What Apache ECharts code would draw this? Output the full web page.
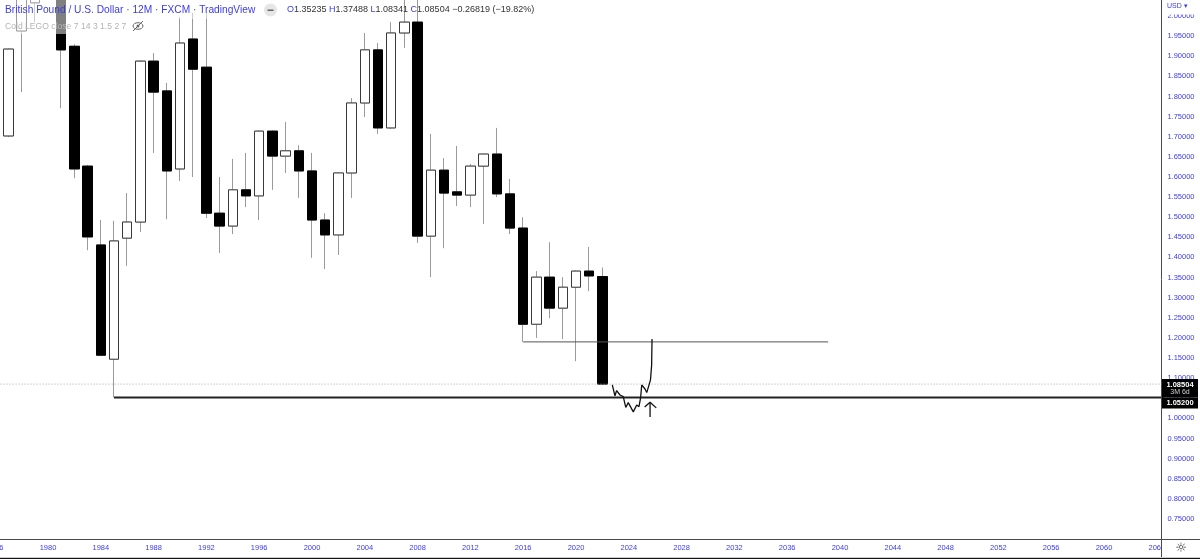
<!DOCTYPE html>
<html>
<head>
<meta charset="utf-8">
<script src="https://cdn.jsdelivr.net/npm/echarts@6/dist/echarts.min.js"></script>
<style>
  html, body { margin: 0; padding: 0; background: #fff; }
  #main { width: 1200px; height: 559px; }
</style>
</head>
<body>
<div id="main"></div>
<script>
// yearly GBP/USD candles
const years = [1976, 1977, 1978, 1979, 1980, 1981, 1982, 1983, 1984, 1985, 1986, 1987, 1988, 1989,
  1990, 1991, 1992, 1993, 1994, 1995, 1996, 1997, 1998, 1999, 2000, 2001, 2002, 2003, 2004, 2005,
  2006, 2007, 2008, 2009, 2010, 2011, 2012, 2013, 2014, 2015, 2016, 2017, 2018, 2019, 2020, 2021, 2022];
const opens = [2.02, 1.702, 1.963, 2.033, 2.22, 2.39, 1.925, 1.627, 1.431, 1.147, 1.448, 1.488, 1.888, 1.814,
  1.620, 1.943, 1.873, 1.510, 1.478, 1.568, 1.553, 1.714, 1.652, 1.665, 1.615, 1.493, 1.456, 1.610, 1.784, 1.916,
  1.722, 1.958, 1.985, 1.453, 1.617, 1.563, 1.555, 1.627, 1.657, 1.558, 1.473, 1.234, 1.351, 1.274, 1.326, 1.366, 1.35235];
const closes = [1.702, 1.918, 2.05, 2.22, 2.39, 1.916, 1.620, 1.451, 1.157, 1.441, 1.488, 1.888, 1.811, 1.615,
  1.933, 1.868, 1.510, 1.478, 1.568, 1.553, 1.714, 1.652, 1.665, 1.615, 1.493, 1.456, 1.610, 1.784, 1.916, 1.722,
  1.958, 1.985, 1.453, 1.617, 1.560, 1.555, 1.627, 1.657, 1.558, 1.473, 1.234, 1.351, 1.274, 1.326, 1.366, 1.354, 1.08504];
const lows = [1.56, 1.699, 1.811, 1.985, 2.16, 1.771, 1.597, 1.418, 1.155, 1.052, 1.379, 1.463, 1.660, 1.495,
  1.590, 1.600, 1.498, 1.411, 1.458, 1.525, 1.493, 1.568, 1.610, 1.548, 1.399, 1.371, 1.406, 1.548, 1.749, 1.707,
  1.720, 1.921, 1.436, 1.351, 1.423, 1.528, 1.525, 1.483, 1.550, 1.458, 1.190, 1.200, 1.249, 1.197, 1.142, 1.316, 1.08341];
const highs = [2.06, 1.92, 2.10, 2.45, 2.45, 2.46, 1.93, 1.63, 1.493, 1.491, 1.560, 1.890, 1.908, 1.834,
  1.998, 2.008, 2.008, 1.600, 1.645, 1.660, 1.716, 1.716, 1.737, 1.679, 1.660, 1.510, 1.612, 1.796, 1.958, 1.933,
  1.985, 2.116, 2.04, 1.707, 1.647, 1.677, 1.632, 1.658, 1.722, 1.595, 1.500, 1.366, 1.438, 1.351, 1.368, 1.426, 1.37488];

// axis runs out to 2064 (future years empty)
const firstYear = 1976, lastYear = 2064;
const axisYears = [];
for (let y = firstYear; y <= lastYear; y++) axisYears.push(String(y));

// drawn levels
const supportLevel = 1.052;
const supportFrom = 1985;
const rangeLow = 1.19;
const rangeFrom = 2016, rangeTo = 2039.1;
const lastPrice = 1.08504;

// hand drawn scribble + arrow, in [year, price]
const scribble = [[2022.75, 1.083], [2022.95, 1.056], [2023.08, 1.069], [2023.33, 1.058], [2023.58, 1.054],
  [2023.77, 1.027], [2023.96, 1.039], [2024.34, 1.016], [2024.6, 1.033], [2024.77, 1.029], [2024.89, 1.05],
  [2024.98, 1.083], [2025.23, 1.073], [2025.36, 1.064], [2025.64, 1.095], [2025.73, 1.132], [2025.76, 1.197]];
const arrowShaft = [[2025.61, 1.003], [2025.61, 1.040]];
const arrowHead = [[2025.2, 1.028], [2025.61, 1.040], [2026.08, 1.026]];

const blue = '#3b3bea';
const font = '"Liberation Sans", Arial, sans-serif';

const candles = years.map((y, i) => [opens[i], closes[i], lows[i], highs[i]]);
const bodies = years.map((y, i) => [opens[i], closes[i], Math.min(opens[i], closes[i]), Math.max(opens[i], closes[i])]);

let chart = echarts.init(document.getElementById('main'));

function lineSeries(name, data, style) {
  return {
    name: name, type: 'line', xAxisIndex: 1, yAxisIndex: 0, data: data,
    symbol: 'none', silent: true, lineStyle: style, z: 5
  };
}

chart.setOption({
  animation: false,
  grid: { left: -11.4, top: 0, width: 1174.8, height: 539, containLabel: false, outerBoundsMode: 'none' },
  xAxis: [
    {
      type: 'category', data: axisYears, boundaryGap: true,
      axisLine: { show: false }, axisTick: { show: false }, splitLine: { show: false },
      axisLabel: { interval: 3, color: blue, fontSize: 7.5, fontFamily: font, margin: 5 }
    },
    { type: 'value', min: firstYear - 0.5, max: lastYear + 0.5, show: false }
  ],
  yAxis: {
    type: 'value', position: 'right', min: 0.7, max: 2.04, interval: 0.05, scale: true,
    axisLine: { show: false }, axisTick: { show: false }, splitLine: { show: false },
    axisLabel: {
      color: blue, fontSize: 7.5, fontFamily: font, margin: 4,
      showMinLabel: false, showMaxLabel: false,
      formatter: v => v.toFixed(5)
    }
  },
  series: [
    {
      // wicks
      name: 'range', type: 'candlestick', data: candles, barWidth: 10, silent: true,
      itemStyle: { color: '#fff', color0: '#000', borderColor: '#9a9a9a', borderColor0: '#9a9a9a', borderWidth: 1 }
    },
    {
      name: 'body', type: 'candlestick', data: bodies, barWidth: 10, silent: true,
      itemStyle: { color: '#fff', color0: '#000', borderColor: '#3a3a3a', borderColor0: '#000', borderWidth: 1 }
    },
    lineSeries('last', [[firstYear - 0.5, lastPrice], [lastYear + 0.5, lastPrice]], { color: '#a8a8a8', width: 1, type: [1, 2] }),
    lineSeries('support', [[supportFrom, supportLevel], [lastYear + 0.5, supportLevel]], { color: '#222', width: 2 }),
    lineSeries('box', [[rangeFrom, rangeLow], [rangeTo, rangeLow]], { color: '#555', width: 1 }),
    lineSeries('scribble', scribble, { color: '#111', width: 1.3 }),
    lineSeries('arrow', arrowShaft, { color: '#111', width: 1.3 }),
    lineSeries('arrowHead', arrowHead, { color: '#111', width: 1.3 })
  ]
});

// price tags on the right scale
const yLast = chart.convertToPixel({ yAxisIndex: 0 }, lastPrice);
const ySup = chart.convertToPixel({ yAxisIndex: 0 }, supportLevel);

chart.setOption({
  graphic: [
    // legend backdrop
    { type: 'rect', z: 50, shape: { x: 0, y: 0, width: 256, height: 19 }, style: { fill: 'rgba(255,255,255,0.5)' } },
    { type: 'rect', z: 50, shape: { x: 0, y: 19, width: 144, height: 15 }, style: { fill: 'rgba(255,255,255,0.5)' } },
    { type: 'text', z: 51, style: { x: 5, y: 10, text: 'British Pound / U.S. Dollar · 12M · FXCM · TradingView',
      fill: blue, font: '10.2px ' + font, verticalAlign: 'middle' } },
    { type: 'circle', z: 51, shape: { cx: 270.5, cy: 10, r: 6.5 }, style: { fill: '#e6e6e6' } },
    { type: 'rect', z: 52, shape: { x: 267.5, y: 9.5, width: 6, height: 1.5 }, style: { fill: '#666' } },
    { type: 'text', z: 51, style: { x: 287, y: 10, verticalAlign: 'middle', font: '9px ' + font,
      text: '{b|O}{n|1.35235} {b|H}{n|1.37488} {b|L}{n|1.08341} {b|C}{n|1.08504} {n|−0.26819 (−19.82%)}',
      rich: { b: { fill: blue, fontSize: 9, fontFamily: font }, n: { fill: '#333', fontSize: 9, fontFamily: font } } } },
    { type: 'text', z: 51, style: { x: 5, y: 27, text: 'Cold LEGO close 7 14 3 1.5 2 7',
      fill: '#b4b4b4', font: '8.6px ' + font, verticalAlign: 'middle' } },
    // eye slash icon
    { type: 'ellipse', z: 51, shape: { cx: 138, cy: 26, rx: 5, ry: 3.3 }, style: { fill: 'none', stroke: '#666', lineWidth: 1 } },
    { type: 'circle', z: 51, shape: { cx: 138, cy: 26, r: 1.5 }, style: { fill: '#666' } },
    { type: 'line', z: 51, shape: { x1: 133, y1: 31, x2: 143, y2: 21 }, style: { stroke: '#666', lineWidth: 1 } },

    // frame
    { type: 'rect', z: 60, shape: { x: 1162, y: 540, width: 38, height: 19 }, style: { fill: '#fff' } },
    { type: 'line', z: 61, shape: { x1: 0, y1: 539.5, x2: 1200, y2: 539.5 }, style: { stroke: '#4a4a4a', lineWidth: 1 } },
    { type: 'line', z: 61, shape: { x1: 1161.5, y1: 0, x2: 1161.5, y2: 559 }, style: { stroke: '#4a4a4a', lineWidth: 1 } },
    { type: 'line', z: 61, shape: { x1: 0, y1: 557.5, x2: 1200, y2: 557.5 }, style: { stroke: '#cfcfcf', lineWidth: 1 } },
    { type: 'line', z: 61, shape: { x1: 0, y1: 558.5, x2: 1200, y2: 558.5 }, style: { stroke: '#111', lineWidth: 1 } },
    { type: 'text', z: 61, style: { x: 1181, y: 549, text: '☼', fill: '#333', font: '13px "DejaVu Sans"',
      align: 'center', verticalAlign: 'middle' } },

    // currency button
    { type: 'rect', z: 60, shape: { x: 1162, y: 0, width: 38, height: 14.5 }, style: { fill: '#fff' } },
    { type: 'text', z: 61, style: { x: 1167, y: 6.5, text: 'USD ▾', fill: blue, font: '7px ' + font, verticalAlign: 'middle' } },

    // last price + countdown
    { type: 'rect', z: 60, shape: { x: 1162, y: yLast - 5, width: 36, height: ySup - yLast + 5 }, style: { fill: '#000' } },
    { type: 'text', z: 61, style: { x: 1180, y: yLast + 0.5, text: '1.08504', fill: '#fff', font: 'bold 7.5px ' + font,
      align: 'center', verticalAlign: 'middle' } },
    { type: 'text', z: 61, style: { x: 1180, y: yLast + 8, text: '3M 6d', fill: '#cfcfcf', font: '7px ' + font,
      align: 'center', verticalAlign: 'middle' } },
    // support tag
    { type: 'rect', z: 60, shape: { x: 1162, y: ySup, width: 36, height: 11 }, style: { fill: '#000' } },
    { type: 'text', z: 61, style: { x: 1180, y: ySup + 5.5, text: '1.05200', fill: '#fff', font: 'bold 7.5px ' + font,
      align: 'center', verticalAlign: 'middle' } }
  ]
});
</script>
</body>
</html>
